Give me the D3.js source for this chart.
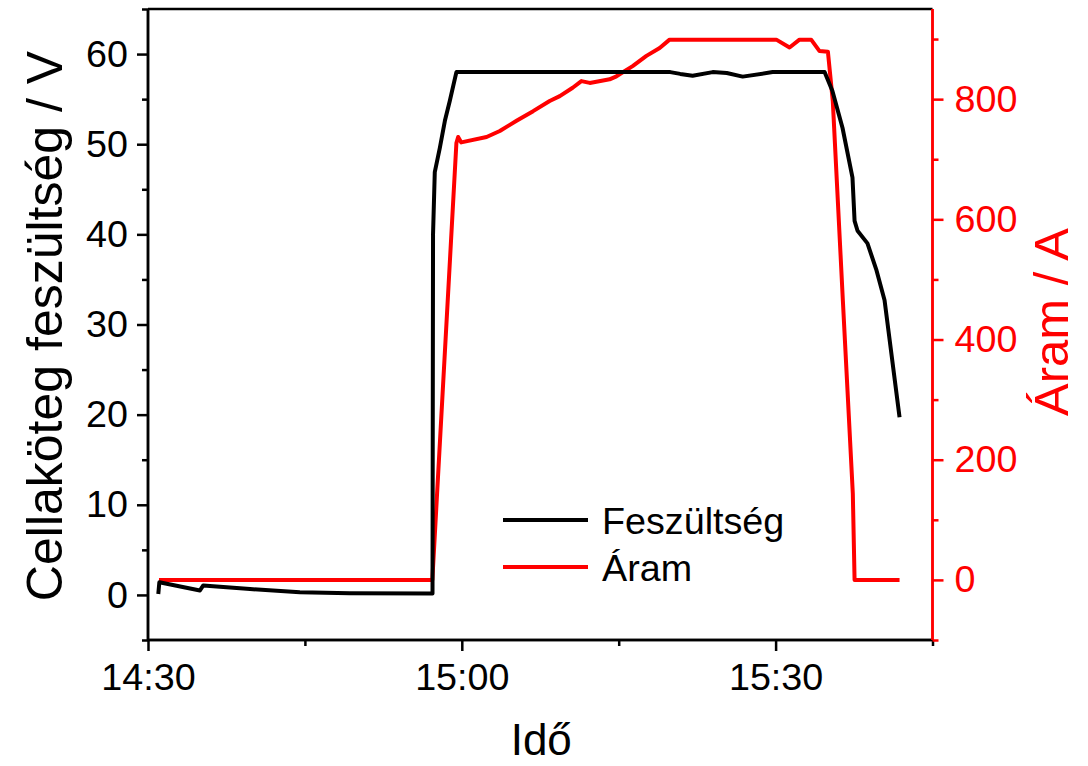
<!DOCTYPE html>
<html>
<head>
<meta charset="utf-8">
<script src="https://cdn.jsdelivr.net/npm/d3@7"></script>
<style>
html,body{margin:0;padding:0;background:#fff;}
svg{display:block;font-family:"Liberation Sans",Arial,sans-serif;}
</style>
</head>
<body>
<svg id="chart" width="1088" height="766"></svg>
<script>
// ---- data ----
const voltageTimes = ["14:30:59","14:31:05","14:34:58","14:35:17","14:39:45","14:44:31","14:49:18","14:57:12",
  "14:57:15","14:57:25","14:57:54","14:58:23","14:58:51","14:59:29","15:19:56","15:20:53","15:22:04","15:23:59",
  "15:25:20","15:26:51","15:29:43","15:34:41","15:35:26","15:36:24","15:37:21","15:37:33","15:37:50","15:38:47",
  "15:39:39","15:40:25","15:41:51"];
const voltageValues = [0.1,1.4,0.5,1.05,0.65,0.3,0.18,0.15,
  40,46.9,49.6,52.6,54.8,58.0,58.0,57.8,57.6,58.0,
  57.9,57.5,58.0,58.0,55.9,51.8,46.3,41.5,40.4,39.0,
  36.0,32.7,19.7];

const currentTimes = ["14:31:03","14:57:11","14:59:29","14:59:39","14:59:57","15:02:22","15:03:38","15:05:14",
  "15:06:49","15:08:24","15:09:22","15:10:36","15:11:26","15:12:14","15:14:08","15:14:47","15:16:20","15:17:39",
  "15:18:55","15:19:52","15:30:04","15:31:20","15:32:17","15:33:24","15:34:12","15:35:00","15:35:28","15:36:26",
  "15:37:23","15:37:33","15:41:51"];
const currentValues = [0,0,727,737,728,737,747,764,
  780,797,805,819,830,827,833,838,855,872,
  885,899,899,886,899,899,880,879,797,464,
  143,0,0];

const xTickLabels = ["14:30","15:00","15:30"];
const xMinorTicks = ["14:45","15:15","15:45"];
const leftTicks = [0,10,20,30,40,50,60];
const leftMinor = [-5,5,15,25,35,45,55,65];
const rightTicks = [0,200,400,600,800];
const rightMinor = [-100,100,300,500,700,900];
const seriesNames = ["Feszültség","Áram"];
const seriesColors = ["#000000","#ff0000"];
const xTitle = "Idő";
const yLeftTitle = "Cellaköteg feszültség / V";
const yRightTitle = "Áram / A";

// ---- layout ----
const L = 148, R = 932.5, T = 9, B = 640;
const parseT = d3.timeParse("%H:%M:%S");
const parseHM = d3.timeParse("%H:%M");
const svg = d3.select("#chart");

const x = d3.scaleTime().domain([parseHM("14:30"), parseHM("15:45")]).range([L, R]);
const yL = d3.scaleLinear().domain([-5, 65]).range([B, T]);
const yR = d3.scaleLinear().domain([-100, 950]).range([B, T]);

const fontTick = 37.7;
const axisW = 2.5;

// x axis
const gx = svg.append("g").attr("transform", `translate(0,${B})`);
gx.call(d3.axisBottom(x).tickValues(xTickLabels.map(parseHM)).tickFormat(d3.timeFormat("%H:%M")).tickSize(11).tickPadding(12));
gx.append("g").call(d3.axisBottom(x).tickValues(xMinorTicks.map(parseHM)).tickFormat("").tickSize(6));
gx.selectAll("path.domain").attr("stroke-width", axisW).attr("d", `M${L},0H${R}`);
gx.selectAll(".tick line").attr("stroke-width", axisW);
gx.selectAll("text").attr("font-size", fontTick).attr("font-family", '"Liberation Sans",Arial,sans-serif').attr("fill", "#000");

// top border
svg.append("line").attr("x1", L).attr("x2", R).attr("y1", T).attr("y2", T).attr("stroke", "#000").attr("stroke-width", axisW);

// left axis
const gl = svg.append("g").attr("transform", `translate(${L},0)`);
gl.call(d3.axisLeft(yL).tickValues(leftTicks).tickSize(11).tickPadding(9));
gl.append("g").call(d3.axisLeft(yL).tickValues(leftMinor).tickFormat("").tickSize(6));
gl.selectAll("path.domain").attr("stroke-width", axisW).attr("d", `M0,${B}V${T}`);
gl.selectAll(".tick line").attr("stroke-width", axisW);
gl.selectAll("text").attr("font-size", fontTick).attr("font-family", '"Liberation Sans",Arial,sans-serif').attr("fill", "#000");

// right axis
const gr = svg.append("g").attr("transform", `translate(${R},0)`);
gr.call(d3.axisRight(yR).tickValues(rightTicks).tickSize(11).tickPadding(11));
gr.append("g").call(d3.axisRight(yR).tickValues(rightMinor).tickFormat("").tickSize(6));
gr.selectAll("path.domain").attr("stroke", "#ff0000").attr("stroke-width", axisW).attr("d", `M0,${B}V${T}`);
gr.selectAll(".tick line").attr("stroke", "#ff0000").attr("stroke-width", axisW);
gr.selectAll("text").attr("font-size", fontTick).attr("font-family", '"Liberation Sans",Arial,sans-serif').attr("fill", "#ff0000");

// lines
const vData = voltageTimes.map((t, i) => ({t: parseT(t), v: voltageValues[i]}));
const cData = currentTimes.map((t, i) => ({t: parseT(t), v: currentValues[i]}));

svg.append("path").datum(cData)
  .attr("fill", "none").attr("stroke", seriesColors[1]).attr("stroke-width", 4).attr("stroke-linejoin", "round")
  .attr("d", d3.line().x(d => x(d.t)).y(d => yR(d.v)));
svg.append("path").datum(vData)
  .attr("fill", "none").attr("stroke", seriesColors[0]).attr("stroke-width", 4).attr("stroke-linejoin", "round")
  .attr("d", d3.line().x(d => x(d.t)).y(d => yL(d.v)));

// legend
const legY = [520, 567];
seriesNames.forEach((n, i) => {
  svg.append("line").attr("x1", 503).attr("x2", 588).attr("y1", legY[i]).attr("y2", legY[i])
    .attr("stroke", seriesColors[i]).attr("stroke-width", 4);
  svg.append("text").attr("x", 602).attr("y", legY[i] + 14).attr("font-size", fontTick).attr("fill", "#000").text(n);
});

// titles
svg.append("text").attr("x", (L + R) / 2 + 1).attr("y", 755).attr("text-anchor", "middle")
  .attr("font-size", 44).attr("fill", "#000").text(xTitle);
svg.append("text").attr("transform", `translate(62,326) rotate(-90)`).attr("text-anchor", "middle")
  .attr("font-size", 50).attr("fill", "#000").text(yLeftTitle);
svg.append("text").attr("transform", `translate(1068,322) rotate(-90)`).attr("text-anchor", "middle")
  .attr("font-size", 49).attr("fill", "#ff0000").text(yRightTitle);
</script>
</body>
</html>
